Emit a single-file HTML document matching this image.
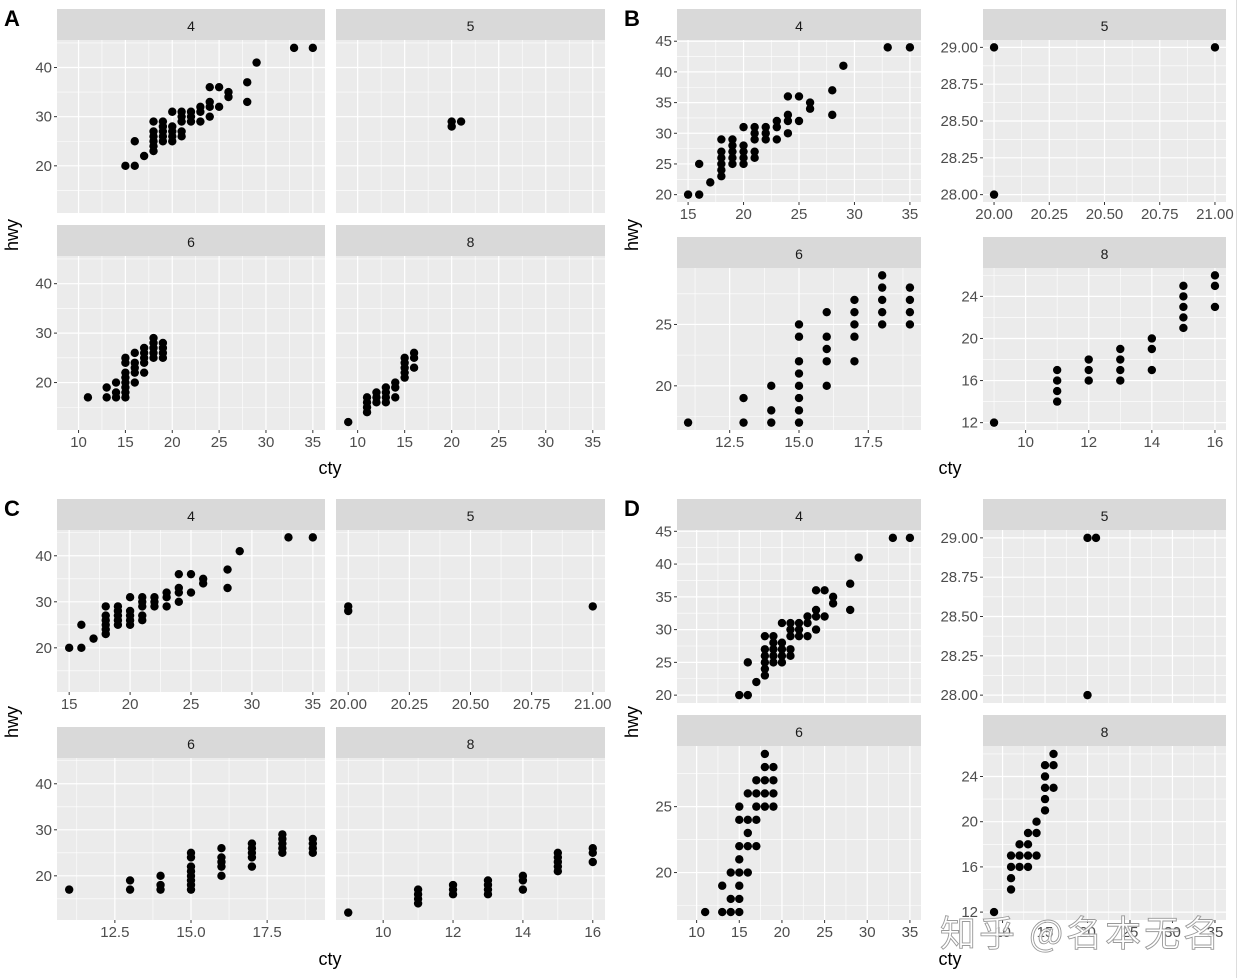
<!DOCTYPE html>
<html><head><meta charset="utf-8"><style>
html,body{margin:0;padding:0;background:#fff;}
svg{display:block;font-family:"Liberation Sans",Arial,sans-serif;}
</style></head><body>
<svg id="s" xmlns="http://www.w3.org/2000/svg" width="1240" height="978" viewBox="0 0 1240 978"></svg>
<script>
const D={
'4':{15:[20],16:[20,25],17:[22],18:[23,24,25,26,27,29],19:[25,26,27,28,29],20:[25,26,27,28,31],21:[26,27,29,30,31],22:[29,30,31],23:[29,31,32],24:[30,32,33,36],25:[32,36],26:[34,35],28:[33,37],29:[41],33:[44],35:[44]},
'5':{20:[28,29],21:[29]},
'6':{11:[17],13:[17,19],14:[17,18,20],15:[17,18,19,20,21,22,24,25],16:[20,22,23,24,26],17:[22,24,25,26,27],18:[25,26,27,28,29],19:[25,26,27,28]},
'8':{9:[12],11:[14,15,16,17],12:[16,17,18],13:[16,17,18,19],14:[17,19,20],15:[21,22,23,24,25],16:[23,25,26]}
};
let out='';
function panel(x0,y0,x1,y1,xr,yr,xb,xl,yb,yl,showX,showY,key){
  const X=v=>x0+(v-xr[0])/(xr[1]-xr[0])*(x1-x0);
  const Y=v=>y1-(v-yr[0])/(yr[1]-yr[0])*(y1-y0);
  out+=`<rect x="${x0}" y="${y0-31}" width="${x1-x0}" height="31" fill="#d9d9d9"/>`;
  out+=`<text x="${(x0+x1)/2}" y="${y0-9}" font-size="14" fill="#1a1a1a" text-anchor="middle">${key}</text>`;
  out+=`<rect x="${x0}" y="${y0}" width="${x1-x0}" height="${y1-y0}" fill="#ebebeb"/>`;
  const minor=(b,r)=>{const s=b[1]-b[0];let m=[];for(let v=b[0]-s/2;v<=r[1];v+=s){if(v>=r[0])m.push(v);}return m;};
  minor(xb,xr).forEach(v=>out+=`<line x1="${X(v)}" x2="${X(v)}" y1="${y0}" y2="${y1}" stroke="#fff" stroke-width="0.6"/>`);
  minor(yb,yr).forEach(v=>out+=`<line y1="${Y(v)}" y2="${Y(v)}" x1="${x0}" x2="${x1}" stroke="#fff" stroke-width="0.6"/>`);
  xb.forEach(v=>out+=`<line x1="${X(v)}" x2="${X(v)}" y1="${y0}" y2="${y1}" stroke="#fff" stroke-width="1.2"/>`);
  yb.forEach(v=>out+=`<line y1="${Y(v)}" y2="${Y(v)}" x1="${x0}" x2="${x1}" stroke="#fff" stroke-width="1.2"/>`);
  for(const c in D[key]){D[key][c].forEach(h=>out+=`<circle cx="${X(+c)}" cy="${Y(h)}" r="4.2" fill="#000"/>`);}
  if(showX)xb.forEach((v,i)=>{out+=`<line x1="${X(v)}" x2="${X(v)}" y1="${y1}" y2="${y1+3}" stroke="#333" stroke-width="1"/><text x="${X(v)}" y="${y1+17}" font-size="15" fill="#4d4d4d" text-anchor="middle">${xl[i]}</text>`;});
  if(showY)yb.forEach((v,i)=>{out+=`<line x1="${x0-3}" x2="${x0}" y1="${Y(v)}" y2="${Y(v)}" stroke="#333" stroke-width="1"/><text x="${x0-5}" y="${Y(v)+5}" font-size="15" fill="#4d4d4d" text-anchor="end">${yl[i]}</text>`;});
}
const fx=[7.7,36.3], fxb=[10,15,20,25,30,35], fxl=fxb.map(String);
const fy=[10.4,45.6], fyb=[20,30,40], fyl=fyb.map(String);
const r4x=[14,36],r4xb=[15,20,25,30,35],r4y=[18.8,45.2],r4yb=[20,25,30,35,40,45];
const r5x=[19.95,21.05],r5xb=[20,20.25,20.5,20.75,21],r5xl=['20.00','20.25','20.50','20.75','21.00'];
const r5y=[27.95,29.05],r5yb=[28,28.25,28.5,28.75,29],r5yl=['28.00','28.25','28.50','28.75','29.00'];
const r6x=[10.6,19.4],r6xb=[12.5,15,17.5],r6xl=['12.5','15.0','17.5'],r6y=[16.4,29.6],r6yb=[20,25];
const r8x=[8.65,16.35],r8xb=[10,12,14,16],r8y=[11.3,26.7],r8yb=[12,16,20,24];
const S=a=>a.map(String);
panel(57,40,325,213,fx,fy,fxb,fxl,fyb,fyl,false,true,'4');
panel(336,40,605,213,fx,fy,fxb,fxl,fyb,fyl,false,false,'5');
panel(57,256,325,430,fx,fy,fxb,fxl,fyb,fyl,true,true,'6');
panel(336,256,605,430,fx,fy,fxb,fxl,fyb,fyl,true,false,'8');
panel(677,40,921,202,r4x,r4y,r4xb,S(r4xb),r4yb,S(r4yb),true,true,'4');
panel(983,40,1226,202,r5x,r5y,r5xb,r5xl,r5yb,r5yl,true,true,'5');
panel(677,268,921,430,r6x,r6y,r6xb,r6xl,r6yb,S(r6yb),true,true,'6');
panel(983,268,1226,430,r8x,r8y,r8xb,S(r8xb),r8yb,S(r8yb),true,true,'8');
panel(57,530,325,692,r4x,fy,r4xb,S(r4xb),fyb,fyl,true,true,'4');
panel(336,530,605,692,r5x,fy,r5xb,r5xl,fyb,fyl,true,false,'5');
panel(57,758,325,920,r6x,fy,r6xb,r6xl,fyb,fyl,true,true,'6');
panel(336,758,605,920,r8x,fy,r8xb,S(r8xb),fyb,fyl,true,false,'8');
panel(677,530,921,703,fx,r4y,fxb,fxl,r4yb,S(r4yb),false,true,'4');
panel(983,530,1226,703,fx,r5y,fxb,fxl,r5yb,r5yl,false,true,'5');
panel(677,746,921,920,fx,r6y,fxb,fxl,r6yb,S(r6yb),true,true,'6');
panel(983,746,1226,920,fx,r8y,fxb,fxl,r8yb,S(r8yb),true,true,'8');
[['A',4,26],['B',624,26],['C',4,516],['D',624,516]].forEach(t=>out+=`<text x="${t[1]}" y="${t[2]}" font-size="22" font-weight="bold" fill="#000">${t[0]}</text>`);
[[330,474],[950,474],[330,965],[950,965]].forEach(p=>out+=`<text x="${p[0]}" y="${p[1]}" font-size="18" fill="#000" text-anchor="middle">cty</text>`);
[[18,235],[638,235],[18,722],[638,722]].forEach(p=>out+=`<text transform="translate(${p[0]},${p[1]}) rotate(-90)" font-size="18" fill="#000" text-anchor="middle">hwy</text>`);
out+=`<line x1="1236.5" x2="1236.5" y1="0" y2="978" stroke="#ddd" stroke-width="1"/>`;
out+=`<text x="940" y="946" font-size="36" letter-spacing="3" fill="#fff" fill-opacity="0.85" stroke="#9a9a9a" stroke-width="0.9" font-family="Noto Sans CJK SC, WenQuanYi Zen Hei, sans-serif">知乎 @名本无名</text>`;
document.getElementById('s').innerHTML=out;
</script>
</body></html>
